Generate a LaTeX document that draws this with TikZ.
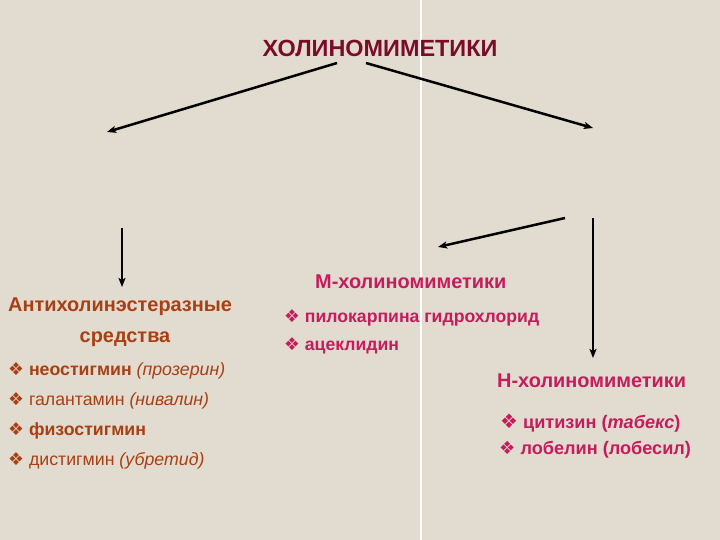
\documentclass[tikz,border=0pt]{standalone}
\usepackage{fontspec}
\setmainfont{Liberation Sans}
\newfontfamily\bulletfont{DejaVu Sans}
\usetikzlibrary{arrows.meta}
\definecolor{fon}{RGB}{226,219,207}
\definecolor{zagolovok}{RGB}{122,12,42}
\definecolor{korichn}{RGB}{168,64,20}
\definecolor{malina}{RGB}{196,28,92}
\newcommand{\romb}{{\bulletfont ❖}}

\begin{document}
\begin{tikzpicture}[x=1bp,y=-1bp,
  tekst/.style={inner sep=0pt, anchor=base west},
  strelka/.style={line width=2.5bp, -{Stealth[length=9bp,width=7bp,inset=2bp]}}]
  % фон
  \fill[fon] (0,0) rectangle (720,540);
  \useasboundingbox (0,0) rectangle (720,540);
  \draw[white, line width=1.2bp] (421,0) -- (421,540);
  % заголовок
  \node[tekst, anchor=base, text=zagolovok, font=\bfseries\fontsize{23.5}{28}\selectfont] (holino) at (380,57) {ХОЛИНОМИМЕТИКИ};
  % левая колонка
  \node[tekst, text=korichn, font=\bfseries\fontsize{20}{24}\selectfont] (anti) at (8,311) {Антихолинэстеразные};
  \node[tekst, anchor=base, text=korichn, font=\bfseries\fontsize{20}{24}\selectfont] (sredstva) at (125,342) {средства};
  \node[tekst, text=korichn, font=\fontsize{17.8}{21}\selectfont] (neo) at (8,375) {\romb{} \textbf{неостигмин} \textit{(прозерин)}};
  \node[tekst, text=korichn, font=\fontsize{17.8}{21}\selectfont] (gal) at (8,405) {\romb{} галантамин \textit{(нивалин)}};
  \node[tekst, text=korichn, font=\fontsize{17.8}{21}\selectfont] (fiz) at (8,435) {\romb{} \textbf{физостигмин}};
  \node[tekst, text=korichn, font=\fontsize{17.8}{21}\selectfont] (dist) at (8,465) {\romb{} дистигмин \textit{(убретид)}};
  % М-холиномиметики
  \node[tekst, text=malina, font=\bfseries\fontsize{20}{24}\selectfont] (mhol) at (315,288) {М-холиномиметики};
  \node[tekst, text=malina, font=\bfseries\fontsize{17.7}{21}\selectfont] (pilo) at (284,322) {\romb{} пилокарпина гидрохлорид};
  \node[tekst, text=malina, font=\bfseries\fontsize{17.7}{21}\selectfont] (acekl) at (284,350) {\romb{} ацеклидин};
  % Н-холиномиметики
  \node[tekst, text=malina, font=\bfseries\fontsize{20}{24}\selectfont] (nhol) at (497,387) {Н-холиномиметики};
  \node[tekst, text=malina, font=\bfseries\fontsize{18.2}{22}\selectfont] (citi) at (500,428) {{\fontsize{20}{24}\selectfont\romb{}} цитизин (\textit{табекс})};
  \node[tekst, text=malina, font=\bfseries\fontsize{18.2}{22}\selectfont] (lobe) at (499,454) {\romb{} лобелин (лобесил)};
  % стрелки
  \coordinate (t1) at (337,63);
  \coordinate (t2) at (366,63);
  \coordinate (lev) at (107,132);
  \coordinate (prav) at (593,128);
  \coordinate (v1) at (122,228);
  \coordinate (v2) at (122,287);
  \coordinate (m1) at (565,218);
  \coordinate (m2) at (438,247);
  \coordinate (n1) at (593,218);
  \coordinate (n2) at (593,358);
  \draw[strelka] (t1) -- (lev);
  \draw[strelka] (t2) -- (prav);
  \draw[strelka] (v1) -- (v2);
  \draw[strelka] (m1) -- (m2);
  \draw[strelka] (n1) -- (n2);
\end{tikzpicture}
\end{document}
